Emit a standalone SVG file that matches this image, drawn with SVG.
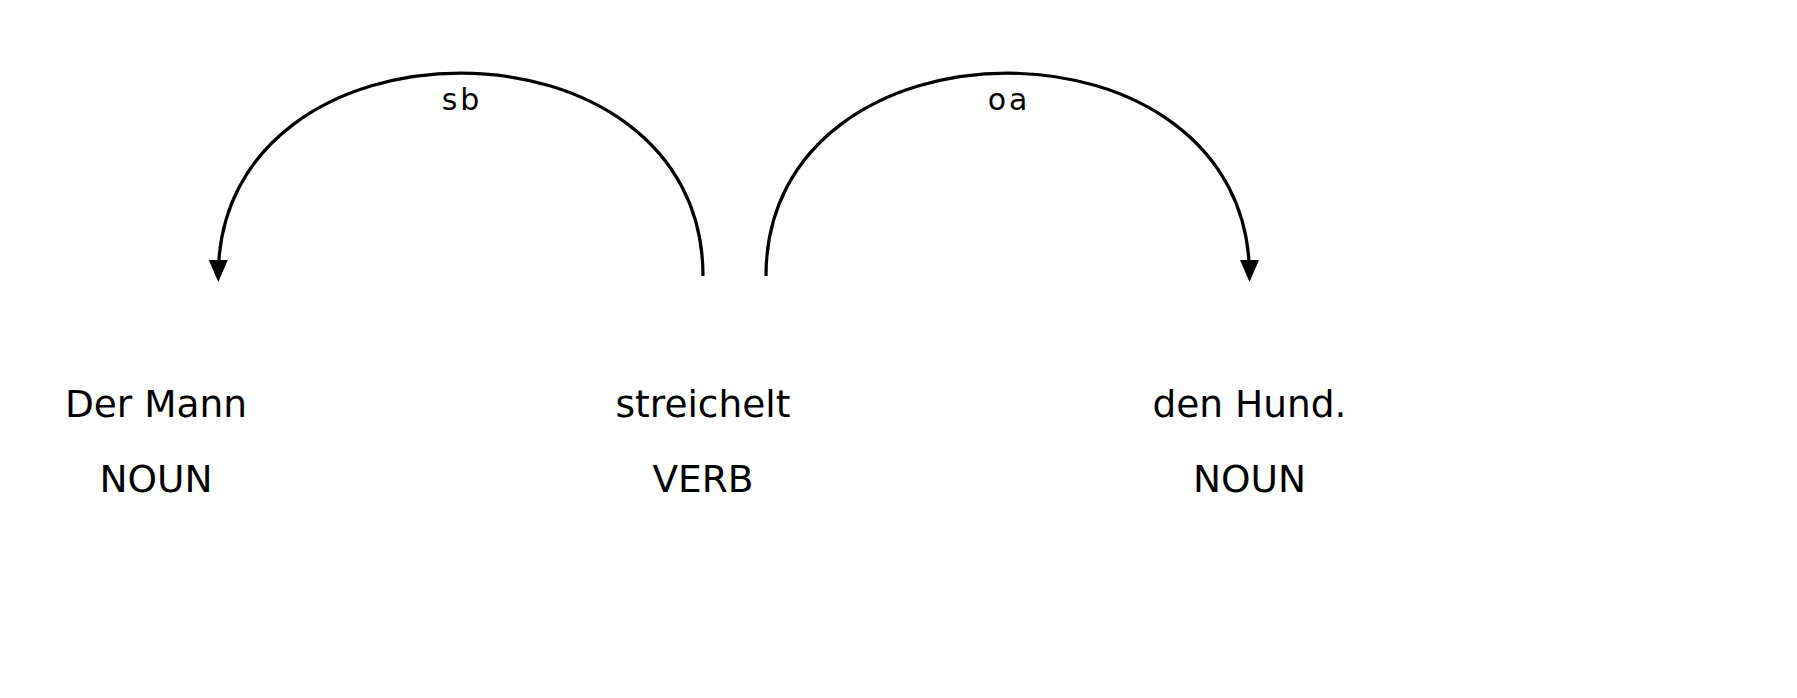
<svg xmlns="http://www.w3.org/2000/svg" width="1797" height="698" viewBox="0 0 1797 698">
  <style>
    .token { font-family: "DejaVu Sans", "Liberation Sans", sans-serif; font-size: 37.5px; fill: #000; text-anchor: middle; }
    .label { font-family: "DejaVu Sans", "Liberation Sans", sans-serif; font-size: 30px; letter-spacing: 3px; fill: #000; text-anchor: middle; }
    .arc { fill: none; stroke: #000; stroke-width: 3.2; }
    .head { fill: #000; stroke: none; }
  </style>
  <rect width="1797" height="698" fill="#fff"/>
  <g id="connectors">
    <g id="arc-sb">
      <path class="arc" d="M218.3,276 C218.3,5.5 703,5.5 703,276"/>
      <path class="head" d="M218.3,282 L208.8,260 L227.8,260 Z"/>
      <text class="label" x="462" y="110">sb</text>
    </g>
    <g id="arc-oa">
      <path class="arc" d="M766,276 C766,5.5 1249.5,5.5 1249.5,276"/>
      <path class="head" d="M1249.5,282 L1240,260 L1259,260 Z"/>
      <text class="label" x="1009" y="110">oa</text>
    </g>
  </g>
  <g id="node-der-mann">
    <text class="token" x="156" y="416.7">Der Mann</text>
    <text class="token" x="156" y="491.7">NOUN</text>
  </g>
  <g id="node-streichelt">
    <text class="token" x="703" y="416.7">streichelt</text>
    <text class="token" x="703" y="491.7">VERB</text>
  </g>
  <g id="node-den-hund">
    <text class="token" x="1249.5" y="416.7">den Hund.</text>
    <text class="token" x="1249.5" y="491.7">NOUN</text>
  </g>
</svg>
